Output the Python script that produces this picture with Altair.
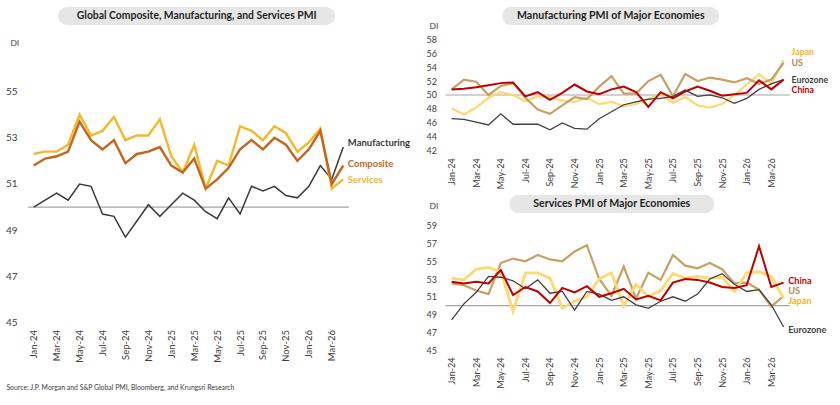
import altair as alt
import pandas as pd

months = ["Jan-24", "Feb-24", "Mar-24", "Apr-24", "May-24", "Jun-24", "Jul-24",
          "Aug-24", "Sep-24", "Oct-24", "Nov-24", "Dec-24", "Jan-25", "Feb-25",
          "Mar-25", "Apr-25", "May-25", "Jun-25", "Jul-25", "Aug-25", "Sep-25",
          "Oct-25", "Nov-25", "Dec-25", "Jan-26", "Feb-26", "Mar-26", "Apr-26"]

# Global PMI (DI)
global_manufacturing = [50.0, 50.3, 50.6, 50.3, 51.0, 50.9, 49.7, 49.6, 48.7, 49.4, 50.1, 49.6, 50.1, 50.6,
                        50.3, 49.8, 49.5, 50.4, 49.7, 50.9, 50.7, 50.9, 50.5, 50.4, 50.9, 51.8, 51.2, 52.6]
global_composite = [51.8, 52.1, 52.2, 52.4, 53.7, 52.9, 52.5, 52.9, 51.9, 52.3, 52.4, 52.6, 51.8, 51.5,
                    52.1, 50.8, 51.2, 51.7, 52.5, 52.9, 52.5, 53.0, 52.7, 52.0, 52.5, 53.3, 51.0, 51.8]
global_services = [52.3, 52.4, 52.4, 52.7, 54.0, 53.1, 53.3, 53.9, 52.9, 53.1, 53.1, 53.8, 52.2, 51.5,
                   52.7, 50.8, 52.0, 51.8, 53.5, 53.3, 52.9, 53.5, 53.2, 52.4, 52.8, 53.4, 50.8, 51.2]

# Manufacturing PMI of major economies
mfg_japan = [48.1, 47.2, 48.2, 49.6, 50.4, 50.0, 49.1, 49.8, 49.7, 49.2, 49.0, 49.6, 48.7, 49.0,
             48.4, 48.7, 49.4, 50.1, 48.9, 49.7, 48.5, 48.2, 48.7, 50.0, 51.5, 53.0, 51.6, 55.0]
mfg_us = [50.8, 52.2, 51.9, 50.0, 51.3, 51.7, 49.6, 47.9, 47.3, 48.5, 49.7, 49.4, 51.2, 52.7,
          50.2, 50.2, 52.0, 52.9, 49.8, 53.0, 52.0, 52.5, 52.2, 51.8, 52.4, 51.6, 52.2, 54.6]
mfg_eurozone = [46.6, 46.5, 46.1, 45.7, 47.3, 45.8, 45.8, 45.8, 45.0, 46.0, 45.2, 45.1, 46.6, 47.6,
                48.6, 49.0, 49.4, 49.5, 49.8, 50.7, 49.8, 50.0, 49.6, 48.8, 49.5, 50.8, 51.6, 52.2]
mfg_china = [50.8, 50.9, 51.1, 51.4, 51.7, 51.8, 49.8, 50.4, 49.3, 50.3, 51.5, 50.5, 50.1, 50.8,
             51.2, 50.4, 48.3, 50.4, 49.5, 50.5, 51.2, 50.6, 49.9, 50.1, 50.3, 52.1, 50.8, 52.2]

# Services PMI of major economies
svc_china = [52.7, 52.5, 52.7, 52.5, 54.0, 51.2, 52.1, 51.6, 50.3, 52.0, 51.5, 52.2, 51.0, 51.4,
             51.9, 50.7, 51.1, 50.6, 52.6, 53.0, 52.9, 52.6, 52.1, 52.0, 52.3, 56.7, 52.1, 52.6]
svc_us = [52.5, 52.3, 51.7, 51.3, 54.8, 55.3, 55.0, 55.7, 55.2, 55.0, 56.1, 56.8, 53.0, 51.1,
          54.4, 50.8, 53.7, 52.9, 55.7, 54.5, 54.2, 54.8, 54.1, 52.5, 52.6, 51.8, 49.9, 51.1]
svc_japan = [53.1, 52.9, 54.1, 54.3, 53.8, 49.4, 53.7, 53.7, 53.1, 49.7, 50.5, 51.0, 53.0, 53.7,
             50.0, 52.4, 51.0, 51.7, 53.6, 53.1, 53.3, 53.1, 53.2, 51.6, 53.7, 53.8, 53.3, 50.8]
svc_eurozone = [48.4, 50.2, 51.5, 53.3, 53.2, 52.8, 51.9, 52.9, 51.4, 51.6, 49.5, 51.6, 51.3, 50.6,
                51.0, 50.1, 49.7, 50.5, 51.0, 50.5, 51.3, 53.0, 53.6, 52.4, 51.6, 51.8, 50.1, 47.6]

SOURCE = "Source: J.P. Morgan and S&P Global PMI, Bloomberg, and Krungsri Research"

FONT = "Lato"
N = len(months)
MONTH_LOOKUP = "[" + ",".join("'%s'" % m for m in months) + "]"
ONE = pd.DataFrame({"k": [0]})

# plot-area origins on the page (x, y)
LEFT_O = (27.6, 38.3)
TOP_O = (445.0, 38.3)
BOT_O = (445.0, 224.7)
LEFT_W, LEFT_H = 321.4, 283.7
RIGHT_W, TOP_H, BOT_H = 344.7, 111.7, 124.6


def x_enc(font_size, pad):
    return alt.X("idx:Q", title=None,
                 scale=alt.Scale(domain=[-0.5, N - 0.5], nice=False, zero=False),
                 axis=alt.Axis(values=list(range(0, N, 2)),
                               labelExpr=MONTH_LOOKUP + "[datum.value]",
                               labelAngle=270, labelPadding=pad, labelFlush=False,
                               labelOverlap=False, domain=False, ticks=False, grid=False,
                               labelFont=FONT, labelFontSize=font_size, labelColor="#404040",
                               zindex=1))


def y_enc(domain, ticks, font_size, pad):
    return alt.Y("value:Q", title=None,
                 scale=alt.Scale(domain=domain, nice=False, zero=False),
                 axis=alt.Axis(values=ticks, labelPadding=pad, domain=False, ticks=False,
                               grid=False, labelFont=FONT, labelFontSize=font_size,
                               labelColor="#404040", zindex=1))


def line(values, color, width, xe, ye):
    df = pd.DataFrame({"idx": list(range(N)), "value": values})
    return alt.Chart(df).mark_line(color=color, strokeWidth=width).encode(x=xe, y=ye)


def ref_line(xe, ye):
    df = pd.DataFrame({"idx": [-0.5], "idx2": [N - 0.5], "value": [50.0]})
    return alt.Chart(df).mark_rule(color="#A6A6A6", strokeWidth=1.2).encode(
        x=xe, x2="idx2:Q", y=ye)


def series_labels(names, xs, ys, colors, xe, ye, size):
    df = pd.DataFrame({"idx": xs, "value": ys, "name": names, "color": colors})
    return alt.Chart(df).mark_text(align="left", baseline="middle", font=FONT,
                                   fontWeight="bold", fontSize=size).encode(
        x=xe, y=ye, text="name:N", color=alt.Color("color:N", scale=None))


def text_at(origin, x, y, label, size, weight="normal", align="left", color="#404040"):
    df = pd.DataFrame({"t": [label]})
    return alt.Chart(df).mark_text(align=align, baseline="middle", font=FONT, fontSize=size,
                                   fontWeight=weight, color=color).encode(
        x=alt.value(x - origin[0]), y=alt.value(y - origin[1]), text="t:N")


def pill(origin, x0, x1, y0, y1):
    return alt.Chart(ONE).mark_rect(color="#E7E6E6", cornerRadius=9).encode(
        x=alt.value(x0 - origin[0]), x2=alt.value(x1 - origin[0]),
        y=alt.value(y0 - origin[1]), y2=alt.value(y1 - origin[1]))


# ---- Global panel ----
xl = x_enc(9.5, 7)
yl = y_enc([45, 57.27], [45, 47, 49, 51, 53, 55], 10, 11)
# invisible frame spanning the whole page, so the layout starts at the page corner
page_frame = alt.Chart(ONE).mark_rect(opacity=0).encode(
    x=alt.value(-LEFT_O[0]), x2=alt.value(840 - LEFT_O[0]),
    y=alt.value(-LEFT_O[1]), y2=alt.value(405 - LEFT_O[1]))

left = alt.layer(
    page_frame,
    pill(LEFT_O, 58, 335, 6, 24),
    text_at(LEFT_O, 196.5, 15, "Global Composite, Manufacturing, and Services PMI", 10.4,
            "bold", "center", "#1F1F1F"),
    text_at(LEFT_O, 10, 42, "DI", 8.5),
    text_at(LEFT_O, 6, 388, SOURCE, 6.9),
    ref_line(xl, yl),
    line(global_manufacturing, "#3A3A3A", 1.5, xl, yl),
    line(global_services, "#F5B82A", 2.4, xl, yl),
    line(global_composite, "#C5651B", 2.4, xl, yl),
    series_labels(["Manufacturing", "Composite", "Services"], [27.4, 27.4, 27.4],
                  [52.77, 51.86, 51.17], ["#3A3A3A", "#C5651B", "#F5B82A"], xl, yl, 9.5),
).properties(width=LEFT_W, height=LEFT_H)

# ---- Manufacturing panel ----
xt = x_enc(9, 7)
yt = y_enc([42, 58], [42, 44, 46, 48, 50, 52, 54, 56, 58], 9, 9)
top = alt.layer(
    pill(TOP_O, 502, 719, 6, 24),
    text_at(TOP_O, 610.5, 15, "Manufacturing PMI of Major Economies", 10.6, "bold", "center",
            "#1F1F1F"),
    text_at(TOP_O, 429, 25, "DI", 8.5),
    ref_line(xt, yt),
    line(mfg_japan, "#FDD873", 2.2, xt, yt),
    line(mfg_us, "#C8A064", 2.2, xt, yt),
    line(mfg_eurozone, "#3F3F3F", 1.3, xt, yt),
    line(mfg_china, "#C00000", 2.0, xt, yt),
    series_labels(["Japan", "US", "Eurozone", "China"], [27.65, 27.65, 27.65, 27.65],
                  [56.1, 54.6, 52.15, 50.7], ["#F4B41A", "#B08A50", "#3F3F3F", "#C00000"],
                  xt, yt, 8.8),
).properties(width=RIGHT_W, height=TOP_H)

# ---- Services panel ----
xb = x_enc(9, 7)
yb = y_enc([45, 59], [45, 47, 49, 51, 53, 55, 57, 59], 9, 9)
bottom = alt.layer(
    pill(BOT_O, 509, 714, 194, 212),
    text_at(BOT_O, 611.5, 203, "Services PMI of Major Economies", 10.6, "bold", "center",
            "#1F1F1F"),
    text_at(BOT_O, 429, 205, "DI", 8.5),
    ref_line(xb, yb),
    line(svc_us, "#C8A064", 2.2, xb, yb),
    line(svc_japan, "#FDD873", 2.8, xb, yb),
    line(svc_eurozone, "#3F3F3F", 1.3, xb, yb),
    line(svc_china, "#C00000", 2.0, xb, yb),
    series_labels(["China", "US", "Japan", "Eurozone"], [27.37, 27.37, 27.37, 27.37],
                  [52.79, 51.6, 50.51, 47.3], ["#C00000", "#B08A50", "#F4B41A", "#3F3F3F"],
                  xb, yb, 9.2),
).properties(width=RIGHT_W, height=BOT_H)

right = alt.vconcat(top, bottom, spacing=BOT_O[1] - TOP_O[1] - TOP_H, bounds="flush")

chart = alt.hconcat(left, right, spacing=TOP_O[0] - LEFT_O[0] - LEFT_W, bounds="flush").properties(
    padding=0, background="white"
).configure_view(stroke=None)

chart.save("out.html", embed_options={"renderer": "svg", "actions": False})
